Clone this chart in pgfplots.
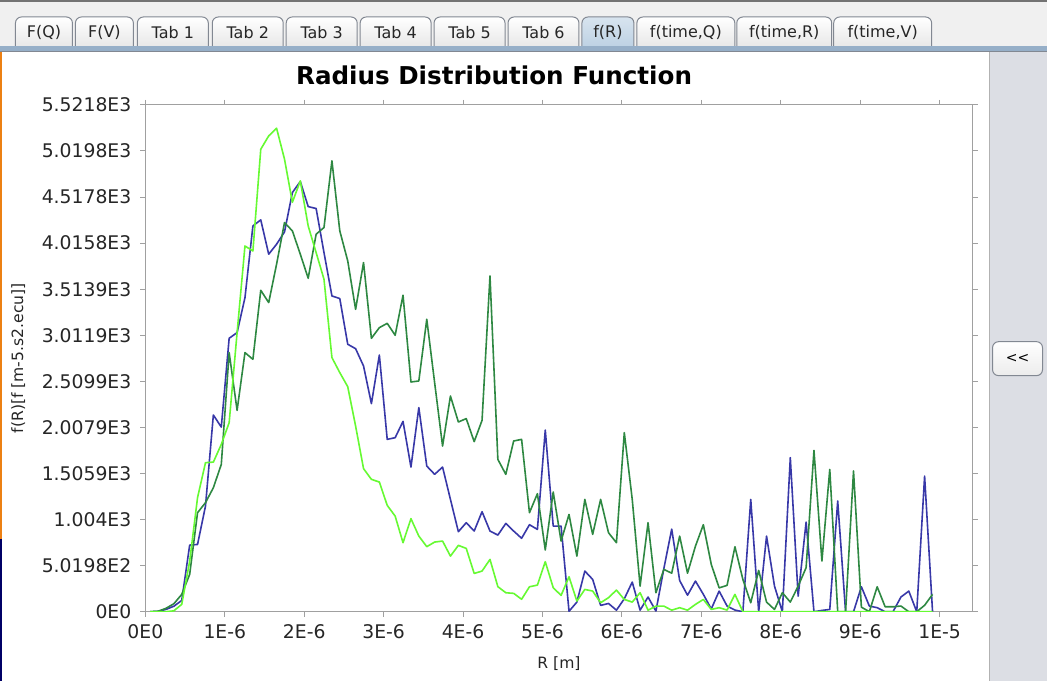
\documentclass[border=0pt]{standalone}
\usepackage{fontspec}
\setmainfont{DejaVu Sans}
\usepackage{pgfplots}
\pgfplotsset{compat=1.18}
\usepackage{pgfplotstable}

\definecolor{serA}{RGB}{56,56,168}
\definecolor{serB}{RGB}{46,136,66}
\definecolor{serC}{RGB}{102,250,50}
\definecolor{frameGray}{RGB}{160,160,160}
\definecolor{panelGray}{RGB}{220,222,228}
\definecolor{tabBorder}{RGB}{130,136,146}
\definecolor{tabSel}{RGB}{190,210,228}
\definecolor{barBlue}{RGB}{150,175,200}

% radius distribution, three runs
\pgfplotstableread{
R      blue  dgreen lgreen
0.060  0     0      0
0.160  5     5      0
0.259  25    37     0
0.359  60    87     10
0.458  123   189    80
0.558  726   407    550
0.657  733   1079   1243
0.757  1151  1188   1624
0.856  2143  1351   1630
0.956  2012  1605   1823
1.055  2979  2823   2060
1.155  3041  2194   3041
1.254  3422  2823   3985
1.354  4203  2750   3930
1.453  4269  3502   5039
1.553  3895  3368   5184
1.652  4004  3786   5268
1.752  4138  4240   4930
1.851  4567  4149   4461
1.951  4687  3895   4694
2.050  4414  3633   4203
2.150  4393  4113   3913
2.249  3913  4186   3622
2.349  3440  4912   2769
2.448  3412  4149   2605
2.548  2914  3822   2452
2.647  2866  3295   2023
2.747  2677  3804   1559
2.846  2267  2979   1442
2.946  2797  3095   1413
3.045  1878  3142   1159
3.145  1896  3012   1042
3.244  2074  3448   752
3.344  1576  2503   1014
3.443  2224  2514   824
3.543  1587  3186   709
3.642  1497  2496   759
3.742  1576  1805   770
3.841  1224  2350   606
3.941  872   2067   723
4.040  970   2104   690
4.140  879   1853   417
4.239  1090  2085   443
4.339  879   3658   570
4.438  835   1660   273
4.538  962   1497   207
4.637  879   1860   200
4.737  800   1878   136
4.836  948   1079   272
4.936  897   1286   290
5.035  1979  673    545
5.135  933   1304   262
5.234  933   770    178
5.334  5     1060   381
5.433  105   606    116
5.533  443   1224   243
5.632  352   843    225
5.732  69    1224   98
5.831  90    861    153
5.931  17    752    236
6.030  141   1951   134
6.130  323   1224   105
6.229  17    279    207
6.329  160   970    17
6.428  7     207    61
6.528  470   461    61
6.627  900   420    17
6.727  340   824    44
6.826  180   420    17
6.926  334   715    80
7.025  190   948    134
7.125  30    516    25
7.224  225   260    44
7.324  62    287    18
7.423  18    708    189
7.523  0     352    0
7.622  1224  98     0
7.722  0     450    0
7.821  824   105    0
7.921  279   25     0
8.020  0     207    0
8.120  1679  105    0
8.219  170   279    0
8.319  977   480    0
8.418  0     1758   0
8.518  14    552    0
8.617  25    1551   0
8.717  1206  0      0
8.816  0     0      0
8.916  0     1533   0
9.015  272   50     0
9.115  62    0      0
9.214  44    272    0
9.314  0     54     0
9.413  0     54     0
9.513  160   62     0
9.612  225   0      0
9.712  0     0      0
9.811  1478  70     0
9.911  0     189    0
}\frdata

\begin{document}
\begin{tikzpicture}
% window background and panels (pixel grid, y downwards)
\begin{scope}[yshift=341pt, x=0.5pt, y=-0.5pt]
  \fill[white] (0,0) rectangle (1047,682);
  \fill[gray!12] (0,0) rectangle (1047,50);
  \fill[black!55] (0,0) rectangle (1047,2);
  \fill[barBlue] (0,46) rectangle (1047,52);
  \draw[tabBorder, line width=0.5pt] (0,52) -- (1047,52);
  \fill[panelGray] (990,52) rectangle (1047,682);
  \draw[gray!60, line width=0.5pt] (990,52) -- (990,682);
  \fill[orange!70!brown] (0,52) rectangle (2,540);
  \fill[blue!40!black] (0,540) rectangle (2,682);
  % tabs
  \foreach \a/\b/\t in {15/72/F(Q), 75/133/F(V), 137/208/Tab 1, 212/283/Tab 2,
      286/357/Tab 3, 360/431/Tab 4, 434/505/Tab 5, 508/579/Tab 6,
      637/735/{f(time,Q)}, 737/832/{f(time,R)}, 834/932/{f(time,V)}}{
    \draw[tabBorder, line width=0.5pt, top color=white, bottom color=gray!18, rounded corners=3pt]
      (\a,46) |- (\b,17) -- (\b,46);
    \node[font=\fontsize{8}{9}\selectfont, text=black!85] at ({(\a+\b)/2},32.5) {\t};
  }
  \draw[tabBorder, line width=0.5pt, top color=tabSel!60, bottom color=tabSel, rounded corners=3pt]
    (582,46) |- (634,17) -- (634,46);
  \node[font=\fontsize{8}{9}\selectfont, text=black!85] at (608,32.5) {f(R)};
  % collapse button
  \draw[tabBorder, line width=0.5pt, top color=white, bottom color=gray!15, rounded corners=3pt]
    (993,342) rectangle (1043,376);
  \node[font=\fontsize{7}{8}\selectfont] at (1018,359) {<{}<};
  % title
  \node[font=\fontsize{12.3}{14}\selectfont\bfseries] at (494,75) {Radius Distribution Function};
\end{scope}

\begin{axis}[
  at={(72.5pt,34.85pt)}, anchor=south west,
  scale only axis, width=414pt, height=253.65pt,
  xmin=0, xmax=10.415, ymin=0, ymax=5521.8,
  axis line style={draw=frameGray, line width=0.6pt},
  tick style={draw=frameGray, line width=0.5pt},
  tick align=outside, major tick length=2.5pt,
  xtick={0,1,2,3,4,5,6,7,8,9,10},
  xticklabels={0E0,1E-6,2E-6,3E-6,4E-6,5E-6,6E-6,7E-6,8E-6,9E-6,1E-5},
  ytick={0,501.98,1003.96,1505.94,2007.92,2509.9,3011.88,3513.86,4015.84,4517.82,5019.8,5521.8},
  yticklabels={0E0,5.0198E2,1.004E3,1.5059E3,2.0079E3,2.5099E3,3.0119E3,3.5139E3,4.0158E3,4.5178E3,5.0198E3,5.5218E3},
  ticklabel style={font=\fontsize{9.4}{11}\selectfont, text=black!85},
  xticklabel style={yshift=-0.5pt},
  yticklabel style={xshift=-1pt},
  xlabel={R [m]}, ylabel={f(R)[f [m-5.s2.ecu]]},
  label style={font=\fontsize{7.8}{9}\selectfont, text=black!85},
  xlabel style={yshift=-2pt},
  ylabel style={yshift=1.5pt},
  clip=true,
  every axis plot/.append style={line width=0.8pt, line join=round},
]
\addplot[serA] table[x=R, y=blue] {\frdata};
\addplot[serB] table[x=R, y=dgreen] {\frdata};
\addplot[serC] table[x=R, y=lgreen] {\frdata};
\end{axis}
\end{tikzpicture}
\end{document}
